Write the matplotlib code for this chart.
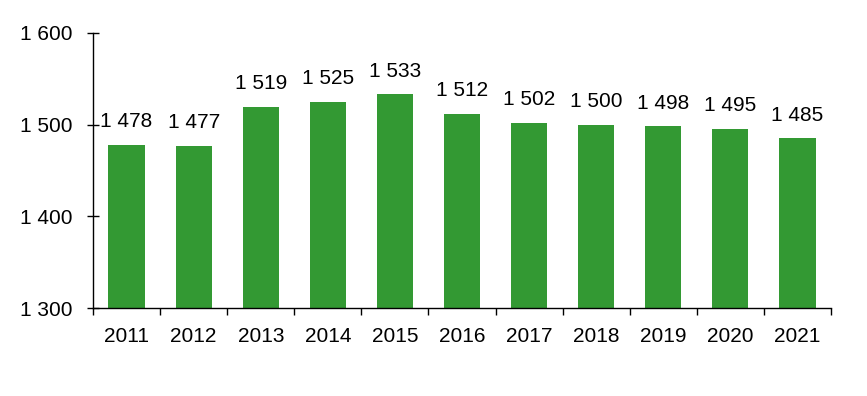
import matplotlib.pyplot as plt
import numpy as np

years = ['2011', '2012', '2013', '2014', '2015', '2016', '2017', '2018', '2019', '2020', '2021']
values = [1478, 1477, 1519, 1525, 1533, 1512, 1502, 1500, 1498, 1495, 1485]
y_ticks = [1300, 1400, 1500, 1600]

plt.rcParams['font.family'] = ['Liberation Sans', 'DejaVu Sans']


def fmt(v):
    return '{:,}'.format(int(v)).replace(',', ' ')


fig = plt.figure(figsize=(8.67, 3.96), dpi=100)
ax = fig.add_axes([0.1073, 0.2222, 0.8512, 0.6945])

x = np.arange(len(years))
bars = ax.bar(x, values, width=0.54, color='#339933', bottom=0)

for xi, v in zip(x, values):
    ax.annotate(fmt(v), (xi, v), xytext=(0, 10), textcoords='offset points',
                ha='center', va='bottom', fontsize=15)

ax.set_xlim(-0.5, len(years) - 0.5)
ax.set_ylim(1300, 1600)
ax.set_yticks(y_ticks)
ax.set_yticklabels([fmt(t) for t in y_ticks])

# labels at category centers, tick marks at the boundaries
ax.set_xticks(x)
ax.set_xticklabels(years)
ax.set_xticks(np.arange(-0.5, len(years)), minor=True)
ax.tick_params(axis='x', which='major', length=0, labelsize=15, pad=14)
ax.tick_params(axis='x', which='minor', length=5, width=1, direction='out')
ax.tick_params(axis='y', length=9, width=1, direction='inout', labelsize=15, pad=10)

for s in ['top', 'right']:
    ax.spines[s].set_visible(False)
for s in ['left', 'bottom']:
    ax.spines[s].set_linewidth(1)

fig.savefig('out.png', dpi=100)
